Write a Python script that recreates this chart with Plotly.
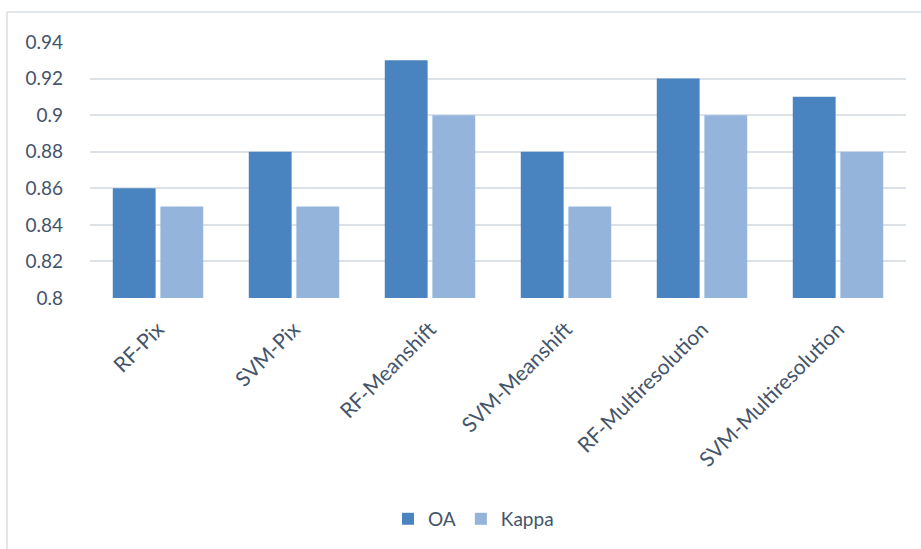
import plotly.graph_objects as go

categories = ["RF-Pix", "SVM-Pix", "RF-Meanshift", "SVM-Meanshift", "RF-Multiresolution", "SVM-Multiresolution"]
oa = [0.86, 0.88, 0.93, 0.88, 0.92, 0.91]
kappa = [0.85, 0.85, 0.90, 0.85, 0.90, 0.88]
y_ticks = [0.8, 0.82, 0.84, 0.86, 0.88, 0.9, 0.92, 0.94]
y_tick_labels = ["0.8", "0.82", "0.84", "0.86", "0.88", "0.9", "0.92", "0.94"]

text_color = "#44546a"
font_family = "Lato, 'Open Sans', sans-serif"

fig = go.Figure()
fig.add_trace(go.Bar(name="OA", x=categories, y=oa, marker=dict(color="#4a84c0", line=dict(width=0))))
fig.add_trace(go.Bar(name="Kappa", x=categories, y=kappa, marker=dict(color="#95b4dc", line=dict(width=0))))

fig.update_layout(
    width=921, height=549,
    paper_bgcolor="white", plot_bgcolor="white",
    margin=dict(l=90, r=15, t=42, b=251, autoexpand=False),
    barmode="group", bargap=0.3, bargroupgap=0.1,
    font=dict(family=font_family, color=text_color),
    showlegend=True,
    legend=dict(orientation="h", x=0.47, xanchor="center", y=-0.863, yanchor="middle",
                font=dict(size=19, color=text_color), itemwidth=30,
                traceorder="normal"),
    xaxis=dict(tickangle=-45, tickfont=dict(size=21, color=text_color), showgrid=False,
               showline=False, ticks="", zeroline=False, ticklabelstandoff=14),
    yaxis=dict(range=[0.8, 0.94], tickvals=y_ticks, ticktext=y_tick_labels,
               tickfont=dict(size=19, color=text_color), showgrid=True,
               gridcolor="#dde2e8", gridwidth=1.5, zeroline=False, showline=False,
               ticks="", ticklabelstandoff=26),
    shapes=[
        dict(type="line", xref="paper", yref="paper", x0=-83/816, x1=1.1, y0=(298-12)/256, y1=(298-12)/256,
             line=dict(color="#d9dde2", width=1.5)),
        dict(type="line", xref="paper", yref="paper", x0=-83/816, x1=-83/816, y0=(298-12)/256, y1=-1.1,
             line=dict(color="#d9dde2", width=1.5)),
    ],
)

fig.write_html("out.html", config={"displayModeBar": False},
               post_script="document.body.style.margin='0';")
